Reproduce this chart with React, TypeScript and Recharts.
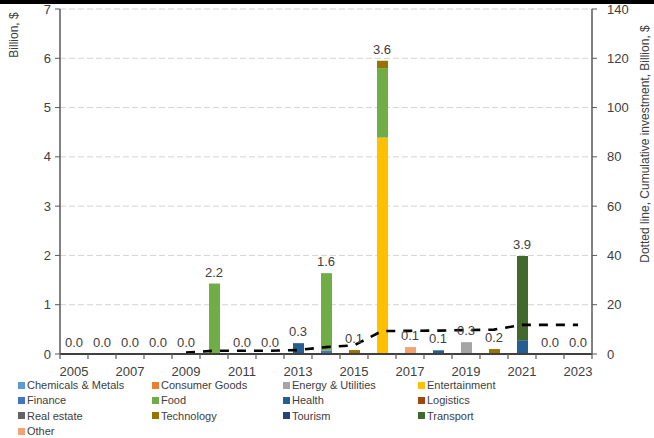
import React from "react";
import {
  ComposedChart,
  Bar,
  Line,
  XAxis,
  YAxis,
  CartesianGrid,
  LabelList,
} from "recharts";

// Investment by sector per year, billion $
const years = [
  2005, 2006, 2007, 2008, 2009, 2010, 2011, 2012, 2013, 2014,
  2015, 2016, 2017, 2018, 2019, 2020, 2021, 2022, 2023,
];

const chemicalsMetals = [0, 0, 0, 0, 0, 0, 0, 0, 0, 0, 0, 0, 0, 0, 0, 0, 0, 0, 0];
const consumerGoods = [0, 0, 0, 0, 0, 0, 0, 0, 0, 0, 0, 0, 0, 0, 0, 0, 0, 0, 0];
const energyUtilities = [0, 0, 0, 0, 0, 0, 0, 0, 0, 0, 0, 0, 0, 0, 0.24, 0, 0, 0, 0];
const entertainment = [0, 0, 0, 0, 0, 0, 0, 0, 0, 0, 0, 4.39, 0, 0, 0, 0, 0, 0, 0];
const finance = [0, 0, 0, 0, 0, 0, 0, 0, 0, 0.07, 0, 0, 0, 0, 0, 0, 0, 0, 0];
const food = [0, 0, 0, 0, 0, 1.43, 0, 0, 0, 1.57, 0, 1.41, 0, 0, 0, 0, 0, 0, 0];
const health = [0, 0, 0, 0, 0, 0, 0, 0, 0.22, 0, 0, 0, 0, 0.075, 0, 0, 0.28, 0, 0];
const logistics = [0, 0, 0, 0, 0, 0, 0, 0, 0, 0, 0, 0, 0, 0, 0, 0, 0, 0, 0];
const realEstate = [0, 0, 0, 0, 0, 0, 0, 0, 0, 0, 0, 0, 0, 0, 0, 0, 0, 0, 0];
const technology = [0, 0, 0, 0, 0, 0, 0, 0, 0, 0, 0.08, 0.15, 0, 0, 0, 0.1, 0, 0, 0];
const tourism = [0, 0, 0, 0, 0, 0, 0, 0, 0, 0, 0, 0, 0, 0, 0, 0, 0, 0, 0];
const transport = [0, 0, 0, 0, 0, 0, 0, 0, 0, 0, 0, 0, 0, 0, 0, 0, 1.71, 0, 0];
const other = [0, 0, 0, 0, 0, 0, 0, 0, 0, 0, 0, 0, 0.14, 0, 0, 0, 0, 0, 0];

// Annual totals printed above each column
const totalLabels = [
  0, 0, 0, 0, 0, 2.2, 0, 0, 0.3, 1.6, 0.1, 3.6, 0.1, 0.1, 0.3, 0.2, 3.9, 0, 0,
];

// Cumulative investment (right axis), billion $
const cumulative: (number | null)[] = [
  null, null, null, null, 0.6, 1.3, 1.3, 1.3, 1.6, 2.8,
  3.5, 9.3, 9.4, 9.5, 9.7, 9.9, 11.8, 11.8, 11.8,
];

const leftTicks = [0, 1, 2, 3, 4, 5, 6, 7];
const rightTicks = [0, 20, 40, 60, 80, 100, 120, 140];

const sectors = [
  { key: "chemicalsMetals", name: "Chemicals & Metals", color: "#5B9BD5", values: chemicalsMetals },
  { key: "consumerGoods", name: "Consumer Goods", color: "#ED7D31", values: consumerGoods },
  { key: "energyUtilities", name: "Energy & Utilities", color: "#A5A5A5", values: energyUtilities },
  { key: "entertainment", name: "Entertainment", color: "#FFC000", values: entertainment },
  { key: "finance", name: "Finance", color: "#4472C4", values: finance },
  { key: "food", name: "Food", color: "#70AD47", values: food },
  { key: "health", name: "Health", color: "#255E91", values: health },
  { key: "logistics", name: "Logistics", color: "#9E480E", values: logistics },
  { key: "realEstate", name: "Real estate", color: "#636363", values: realEstate },
  { key: "technology", name: "Technology", color: "#997300", values: technology },
  { key: "tourism", name: "Tourism", color: "#264478", values: tourism },
  { key: "transport", name: "Transport", color: "#43682B", values: transport },
  { key: "other", name: "Other", color: "#F4A36F", values: other },
];

const rows = years.map((year, i) => {
  const row: Record<string, number | string | null> = {
    year: String(year),
    total: totalLabels[i],
    cumulative: cumulative[i],
  };
  let stackHeight = 0;
  sectors.forEach((s) => {
    row[s.key] = s.values[i];
    stackHeight += s.values[i];
  });
  // top of the stacked column, used to anchor the total label
  row.stackHeight = stackHeight;
  return row;
});

const FONT = "'Liberation Sans', Arial, sans-serif";
const TEXT = "#404040";
const AXIS = "#595959";

const W = 654;
const H = 438;
const TOP = 9;
const X_AXIS_H = 84;
const LEFT_W = 60;
const RIGHT_W = 62;
const PLOT_BOTTOM = H - X_AXIS_H;
const HALF_BAND = (W - LEFT_W - RIGHT_W) / years.length / 2;

// Year axis: tick marks sit between categories, labels on every other year
const YearTick = (props: any) => {
  const { x, payload, index } = props;
  const last = index === years.length - 1;
  return (
    <g>
      <line x1={x - HALF_BAND} x2={x - HALF_BAND} y1={PLOT_BOTTOM} y2={PLOT_BOTTOM + 5} stroke={AXIS} strokeWidth={1.2} />
      {last && (
        <line x1={x + HALF_BAND} x2={x + HALF_BAND} y1={PLOT_BOTTOM} y2={PLOT_BOTTOM + 5} stroke={AXIS} strokeWidth={1.2} />
      )}
      {index % 2 === 0 && (
        <text x={x} y={PLOT_BOTTOM + 22} textAnchor="middle" fontSize={13} fill={TEXT} fontFamily={FONT}>
          {payload.value}
        </text>
      )}
    </g>
  );
};

const TotalLabel = (props: any) => {
  const { x, y, value } = props;
  return (
    <text
      x={Number(x)}
      y={Number(y) - 7}
      textAnchor="middle"
      fontSize={13}
      fill={TEXT}
      fontFamily={FONT}
    >
      {Number(value).toFixed(1)}
    </text>
  );
};

const legendCols = [18, 152, 283, 418];
const legendRows = [385, 400, 415.5, 431];

export default function App() {
  return (
    <div
      style={{
        position: "absolute",
        left: 0,
        top: 0,
        width: W,
        height: H,
        background: "#fff",
        fontFamily: FONT,
        overflow: "hidden",
      }}
    >
      <div style={{ position: "absolute", left: 0, top: 0, width: W, height: 4, background: "#000" }} />
      <ComposedChart
        width={W}
        height={H}
        data={rows}
        margin={{ top: TOP, right: 0, bottom: 0, left: 0 }}
      >
        <CartesianGrid
          yAxisId="left"
          vertical={false}
          stroke="#d4d4d4"
          strokeDasharray="6 3"
        />
        <XAxis
          dataKey="year"
          interval={0}
          height={X_AXIS_H}
          tickLine={false}
          axisLine={{ stroke: "#404040", strokeWidth: 1.8 }}
          tick={<YearTick />}
        />
        <YAxis
          yAxisId="left"
          width={LEFT_W}
          domain={[0, 7]}
          ticks={leftTicks}
          interval={0}
          tickSize={5}
          tickMargin={4}
          axisLine={{ stroke: AXIS, strokeWidth: 1.5 }}
          tickLine={{ stroke: AXIS }}
          tick={{ fontSize: 13, fill: TEXT, fontFamily: FONT }}
        />
        <YAxis
          yAxisId="right"
          orientation="right"
          width={RIGHT_W}
          domain={[0, 140]}
          ticks={rightTicks}
          interval={0}
          tickSize={5}
          tickMargin={10}
          axisLine={{ stroke: AXIS, strokeWidth: 1.5 }}
          tickLine={{ stroke: AXIS }}
          tick={{ fontSize: 13, fill: TEXT, fontFamily: FONT, textAnchor: "start" }}
        />
        {sectors.map((s) => (
          <Bar
            key={s.key}
            yAxisId="left"
            dataKey={s.key}
            name={s.name}
            stackId="sectors"
            fill={s.color}
            barSize={11}
            isAnimationActive={false}
          />
        ))}
        <Line
          yAxisId="right"
          dataKey="cumulative"
          type="linear"
          stroke="#000"
          strokeWidth={2.6}
          strokeDasharray="9 8"
          dot={false}
          activeDot={false}
          connectNulls={false}
          isAnimationActive={false}
        />
        {/* invisible carrier for the column total labels */}
        <Line
          yAxisId="left"
          dataKey="stackHeight"
          stroke="none"
          dot={false}
          activeDot={false}
          legendType="none"
          isAnimationActive={false}
        >
          <LabelList dataKey="total" content={<TotalLabel />} />
        </Line>
      </ComposedChart>

      <svg
        width={W}
        height={H}
        style={{ position: "absolute", left: 0, top: 0, pointerEvents: "none" }}
      >
        <text
          transform="translate(18,35) rotate(-90)"
          textAnchor="middle"
          fontSize={12}
          fill={TEXT}
          fontFamily={FONT}
        >
          Billion, $
        </text>
        <text
          transform="translate(649,144) rotate(-90)"
          textAnchor="middle"
          fontSize={12}
          fill={TEXT}
          fontFamily={FONT}
        >
          Dotted line, Cumulative investment, Billion, $
        </text>
      </svg>

      {sectors.map((s, i) => {
        const col = i % 4;
        const row = Math.floor(i / 4);
        return (
          <div
            key={s.key}
            style={{
              position: "absolute",
              left: legendCols[col],
              top: legendRows[row] - 7,
              height: 14,
              display: "flex",
              alignItems: "center",
              fontSize: 11,
              color: TEXT,
              whiteSpace: "nowrap",
              lineHeight: "14px",
            }}
          >
            <span
              style={{
                display: "inline-block",
                width: 7,
                height: 7,
                background: s.color,
                marginRight: 2,
              }}
            />
            {s.name}
          </div>
        );
      })}
    </div>
  );
}
